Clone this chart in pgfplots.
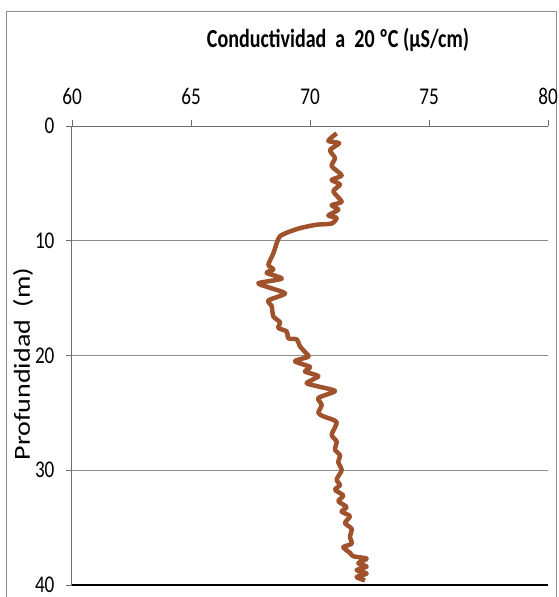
\documentclass[border=0pt]{standalone}
\usepackage{pgfplots}
\pgfplotsset{compat=1.18}
\usepackage{fontspec}
\setmainfont{Carlito}
\newfontfamily\cond[FakeStretch=0.8]{Carlito}
\newfontfamily\condt[FakeStretch=0.77]{Carlito}
\newfontfamily\wide[FakeStretch=1.22]{Carlito}
\definecolor{brn}{HTML}{A0522D}
\definecolor{gridc}{RGB}{140,140,140}
\definecolor{axc}{RGB}{110,110,110}
\begin{document}
\begin{tikzpicture}
\useasboundingbox (-72pt,-12pt) rectangle (486pt,585pt);
\draw[gridc, line width=1pt] (-65pt,-40pt) -- (-65pt,573pt) -- (484pt,573pt) -- (484pt,-40pt);
\begin{axis}[
  at={(0pt,0pt)}, anchor=south west,
  scale only axis, width=476pt, height=459pt,
  xmin=60, xmax=80, ymin=0, ymax=40,
  y dir=reverse,
  axis x line*=top, axis y line*=left,
  axis line style={axc, line width=1pt},
  xtick={60,65,70,75,80}, ytick={0,10,20,30},
  extra y ticks={40},
  extra y tick style={grid style={black, line width=2.5pt}},
  ymajorgrids, grid style={gridc, line width=1pt},
  tick align=outside, major tick length=6pt,
  tick style={axc, line width=0.8pt},
  ticklabel style={font=\cond\fontsize{24}{26}\selectfont},
  xticklabel style={yshift=12pt},
  yticklabel style={xshift=-8pt},
  /pgf/number format/assume math mode=true,
  clip=false,
]
\addplot[brn, line width=4.5pt, line join=round, smooth, tension=0.4] coordinates {
(71.12,0.64) (70.77,1.3) (71.23,1.5) (70.84,2.1) (71.05,2.8) (70.91,3.5)
(71.33,4.3) (70.91,4.7) (71.26,5.1) (70.98,5.7) (71.33,6.6) (70.91,6.9)
(71.19,7.3) (70.77,7.8) (71.12,8.0) (70.91,8.5) (70.28,8.6) (69.58,8.9)
(69.02,9.3) (68.74,9.6) (68.62,10.1) (68.46,11.1) (68.25,12.1) (68.46,12.5)
(68.18,12.8) (68.81,13.3) (67.83,13.7) (68.32,14.1) (68.95,14.6) (68.25,15.2)
(68.39,15.7) (68.46,16.6) (68.74,17.1) (68.67,17.6) (69.02,17.9) (69.09,18.5)
(69.44,18.6) (69.58,19.2) (69.79,19.7) (69.93,20.1) (69.37,20.5) (70.0,21.0)
(69.79,21.4) (70.35,21.8) (69.86,22.4) (70.35,22.7) (71.05,23.1) (70.35,23.7)
(70.49,24.3) (70.35,25.0) (70.56,25.3) (71.12,25.8) (70.91,26.9) (71.12,27.5)
(71.05,28.2) (71.26,28.7) (71.19,29.3) (71.33,30.0) (71.12,30.8) (71.26,31.3)
(71.05,31.7) (71.4,32.2) (71.19,32.7) (71.54,33.2) (71.33,33.6) (71.68,34.0)
(71.47,34.6) (71.75,35.1) (71.68,35.8) (71.75,36.4) (71.4,36.7) (71.68,37.2)
(71.82,37.5) (72.38,37.7) (72.03,38.1) (72.38,38.4) (71.96,38.7) (72.38,39.0)
(71.96,39.3) (72.31,39.6)
};
\end{axis}
\node[font=\condt\fontsize{26}{28}\selectfont\bfseries] at (266pt,545pt) {Conductividad\ \ a\ \ 20 ºC (µS/cm)};
\node[rotate=90, font=\wide\fontsize{23}{25}\selectfont] at (-49pt,221pt) {Profundidad\ \ (m)};
\end{tikzpicture}
\end{document}
